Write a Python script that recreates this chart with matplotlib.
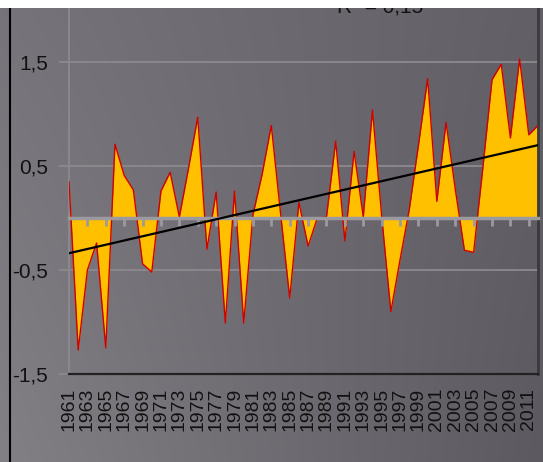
import numpy as np
import matplotlib
matplotlib.use('Agg')
import matplotlib.pyplot as plt
from matplotlib.patches import Rectangle
from matplotlib.lines import Line2D

# данные: отклонение по годам
years = list(range(1961, 2013))
values = [0.35, -1.27, -0.50, -0.24, -1.25, 0.71, 0.41, 0.27, -0.44, -0.52,
          0.26, 0.44, 0.01, 0.48, 0.97, -0.30, 0.25, -1.01, 0.26, -1.01,
          0.03, 0.42, 0.89, 0.05, -0.77, 0.15, -0.27, 0.00, 0.01, 0.74,
          -0.22, 0.64, 0.01, 1.04, 0.02, -0.90, -0.40, 0.08, 0.70, 1.34,
          0.16, 0.92, 0.28, -0.31, -0.33, 0.48, 1.33, 1.48, 0.77, 1.53,
          0.80, 0.89]
y_ticks = [-1.5, -0.5, 0.5, 1.5]
y_labels = ['-1,5', '-0,5', '0,5', '1,5']
r2_text = 'R² = 0,15'

plt.rcParams['font.family'] = ['Liberation Sans', 'DejaVu Sans']

W, H = 543, 462
fig = plt.figure(figsize=(W / 100, H / 100), dpi=100, facecolor='white')

# фон с градиентом
bg = fig.add_axes([0, 0, 1, 1 - 8 / H], zorder=-5)
gx, gy = np.meshgrid(np.linspace(0, 1, 200), np.linspace(0, 1, 200))
tl = np.array([118, 116, 122]); tr = np.array([98, 96, 102])
bl = np.array([130, 128, 133]); br = np.array([92, 90, 96])
img = ((1 - gx)[..., None] * (1 - gy)[..., None] * tl + gx[..., None] * (1 - gy)[..., None] * tr
       + (1 - gx)[..., None] * gy[..., None] * bl + gx[..., None] * gy[..., None] * br) / 255
bg.imshow(img, aspect='auto', extent=[0, 1, 0, 1], origin='upper')
bg.set_xlim(0, 1); bg.set_ylim(0, 1)
bg.axis('off')

x = np.arange(len(years))
ax = fig.add_axes([69 / W, (H - 374) / H, 469 / W, 366 / H])
ax.patch.set_alpha(0)
ax.set_xlim(0, len(years) - 1)
ax.set_ylim(-1.5, 2.02)

ax.fill_between(x, 0, values, color='#FFC000', linewidth=0, zorder=2)
ax.plot(x, values, color='#D00000', linewidth=1, zorder=3)

ax.set_yticks(y_ticks)
ax.set_yticklabels(y_labels, fontsize=15, color='#111111')
ax.grid(axis='y', color='#8c8a8f', linewidth=1.3, zorder=0)
ax.set_axisbelow(True)
ax.tick_params(axis='y', length=7, width=1.3, color='#8c8a8f', pad=8)

ax.set_xticks(x[::2])
ax.set_xticklabels([str(v) for v in years[::2]], rotation=90, fontsize=14, color='#111111')
ax.tick_params(axis='x', length=0, pad=10)

ax.spines['left'].set_color('#8c8a8f')
ax.spines['left'].set_linewidth(1.3)
ax.spines['bottom'].set_color('#222222')
ax.spines['bottom'].set_linewidth(1.6)
ax.spines['right'].set_color('#3a393c')
ax.spines['right'].set_linewidth(2)
ax.spines['top'].set_visible(False)

# горизонтальная ось на нуле с засечками
ax2 = ax.twiny()
ax2.set_xlim(ax.get_xlim())
ax2.spines['bottom'].set_position(('data', 0))
ax2.spines['bottom'].set_color('#9c9a9e')
ax2.spines['bottom'].set_linewidth(2.5)
for s in ['top', 'left', 'right']:
    ax2.spines[s].set_visible(False)
ax2.xaxis.set_ticks_position('bottom')
ax2.set_xticks(x[2::2])
ax2.set_xticklabels([])
ax2.tick_params(axis='x', direction='out', length=6, width=2, color='#9c9a9e')

# линия тренда
k, b = np.polyfit(x, values, 1)
ax2.plot(x, k * x + b, color='black', linewidth=1.6, zorder=5)

fig.text(380 / W, 1 - 13 / H, r2_text, fontsize=15, ha='center', va='baseline', color='#111111')
fig.add_artist(Rectangle((0, 1 - 8 / H), 1, 8 / H, transform=fig.transFigure,
                         facecolor='white', edgecolor='none', zorder=20))
fig.add_artist(Line2D([9.5 / W, 9.5 / W], [0, 1 - 8 / H], transform=fig.transFigure,
                      color='black', linewidth=1.5, zorder=10))

fig.savefig('out.png', dpi=100)
